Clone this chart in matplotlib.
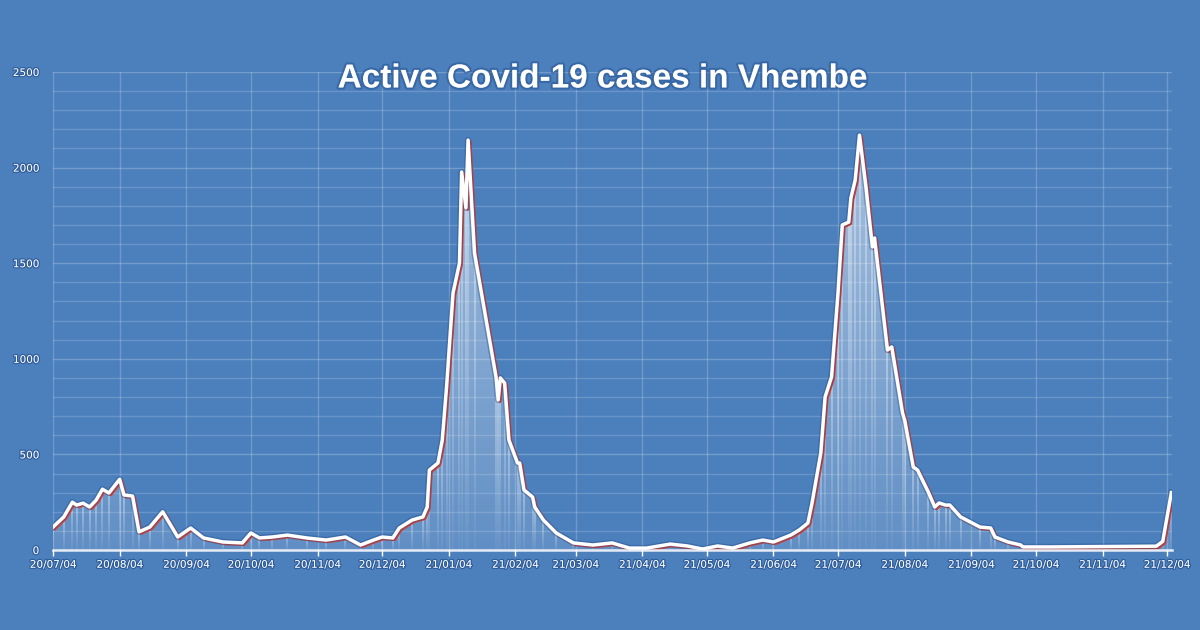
import matplotlib
matplotlib.use("Agg")
import matplotlib.pyplot as plt
import matplotlib.dates as mdates
import matplotlib.patheffects as pe
import numpy as np
import datetime as dt

# ---- data ----
start_date = "2020-07-04"
day_offsets = [0, 5, 9, 11, 14, 17, 20, 23, 26, 31, 33, 37, 40, 45, 51, 58, 64, 70, 79, 88,
               92, 96, 102, 109, 118, 127, 136, 143, 149, 153, 158, 161, 167, 172, 174, 175,
               179, 181, 183, 186, 189, 190, 192, 193, 196, 206, 207, 208, 210, 212, 216, 217,
               219, 223, 224, 228, 234, 242, 251, 260, 268, 276, 287, 295, 302, 309, 316, 324,
               330, 335, 343, 347, 351, 353, 357, 359, 362, 365, 367, 370, 371, 373, 375, 378,
               381, 382, 388, 390, 395, 396, 400, 402, 407, 410, 412, 415, 417, 422, 431, 436,
               438, 444, 450, 451, 464, 513, 516, 520]
active_cases = [120, 173, 250, 235, 245, 225, 260, 318, 298, 370, 288, 282, 95, 120, 200, 68, 115, 63, 42, 37,
                89, 63, 68, 78, 63, 52, 68, 26, 52, 68, 63, 115, 157, 173, 225, 418,
                455, 575, 853, 1344, 1500, 1977, 1790, 2144, 1553, 905, 785, 900, 873, 575, 455, 455,
                314, 277, 225, 157, 89, 37, 26, 37, 10, 10, 31, 21, 5, 21, 10, 37,
                52, 42, 78, 105, 141, 250, 507, 800, 905, 1344, 1700, 1715, 1841, 1935, 2170, 1899,
                1585, 1632, 1046, 1062, 717, 680, 434, 418, 303, 225, 246, 235, 235, 173, 120, 115,
                68, 42, 26, 16, 16, 20, 45, 300]
x_tick_labels = ["20/07/04", "20/08/04", "20/09/04", "20/10/04", "20/11/04", "20/12/04",
                 "21/01/04", "21/02/04", "21/03/04", "21/04/04", "21/05/04", "21/06/04",
                 "21/07/04", "21/08/04", "21/09/04", "21/10/04", "21/11/04", "21/12/04"]
y_ticks = [0, 500, 1000, 1500, 2000, 2500]
title = "Active Covid-19 cases in Vhembe"

# ---- styling ----
BG = "#4c80bd"
DARK = "#24508f"
RED = "#e0402e"

t0 = dt.datetime.strptime(start_date, "%Y-%m-%d")
dates = [t0 + dt.timedelta(days=d) for d in day_offsets]
x = mdates.date2num(dates)
y = np.array(active_cases, dtype=float)
tick_dates = mdates.date2num([dt.datetime.strptime(s, "%y/%m/%d") for s in x_tick_labels])

fig = plt.figure(figsize=(12, 6.3), dpi=100, facecolor=BG)
ax = fig.add_axes([53 / 1200, 1 - 550 / 630, (1172 - 53) / 1200, (550 - 72) / 630])
ax.set_facecolor(BG)
ax.set_xlim(mdates.date2num(t0), mdates.date2num(t0 + dt.timedelta(days=520.3)))
ax.set_ylim(0, 2500)

# grid
for v in range(0, 2501, 100):
    ax.axhline(v, color="white", alpha=0.16 if v % 500 else 0.22, lw=1, zorder=0)
for td in tick_dates:
    ax.axvline(td, color="white", alpha=0.2, lw=1, zorder=0)

# area fill with vertical gradient (white at top -> transparent at bottom)
poly = ax.fill_between(x, 0, y, color="white", alpha=0.12, lw=0, zorder=1)
grad = np.linspace(0.0, 1.0, 256).reshape(-1, 1)
rgba = np.zeros((256, 1, 4))
rgba[..., :3] = 1.0
rgba[..., 3] = grad[:, :] * 0.45
im = ax.imshow(rgba, extent=[x[0], x[-1], 0, 2200], origin="lower", aspect="auto", zorder=1)
path = poly.get_paths()[0]
im.set_clip_path(path, transform=ax.transData)

# stripes at each data point
for xi, yi in zip(x, y):
    n = 30
    ys = np.linspace(0, yi, n + 1)
    for k in range(n):
        ax.plot([xi, xi], [ys[k], ys[k + 1]], color="white",
                alpha=0.05 + 0.4 * (k / n), lw=1.2, solid_capstyle="butt", zorder=1.5)

# main line with shadows
line_fx = [
    pe.SimpleLineShadow(offset=(1.3, -1.1), shadow_color=RED, alpha=1.0, rho=1.0, linewidth=2.4),
    pe.Stroke(linewidth=4.6, foreground=DARK, alpha=0.4),
    pe.Normal(),
]
ax.plot(x, y, color="white", lw=2.5, solid_joinstyle="round", zorder=3, path_effects=line_fx)

# axes styling
for s in ax.spines.values():
    s.set_visible(False)
ax.axhline(0, color="white", lw=1.8, alpha=0.85, zorder=4, clip_on=False)

txt_fx = [pe.withStroke(linewidth=1.8, foreground=DARK, alpha=0.7)]
ax.set_xticks(tick_dates)
ax.set_xticklabels(x_tick_labels)
ax.set_yticks(y_ticks)
ax.set_yticklabels([str(v) for v in y_ticks])
ax.tick_params(axis="x", colors="white", labelsize=7.5, length=4, width=1, pad=3, direction="out")
ax.tick_params(axis="y", colors="white", labelsize=7.5, length=0, pad=10)
for lab in ax.get_xticklabels() + ax.get_yticklabels():
    lab.set_path_effects(txt_fx)
    lab.set_fontfamily("DejaVu Sans")

fig.text(603 / 1200, 1 - 79 / 630, title, color="white", fontsize=24, fontweight="bold",
         family="Liberation Sans", ha="center", va="center",
         path_effects=[pe.withStroke(linewidth=3, foreground=DARK, alpha=0.5)])

fig.savefig("out.png", dpi=100, facecolor=BG)
